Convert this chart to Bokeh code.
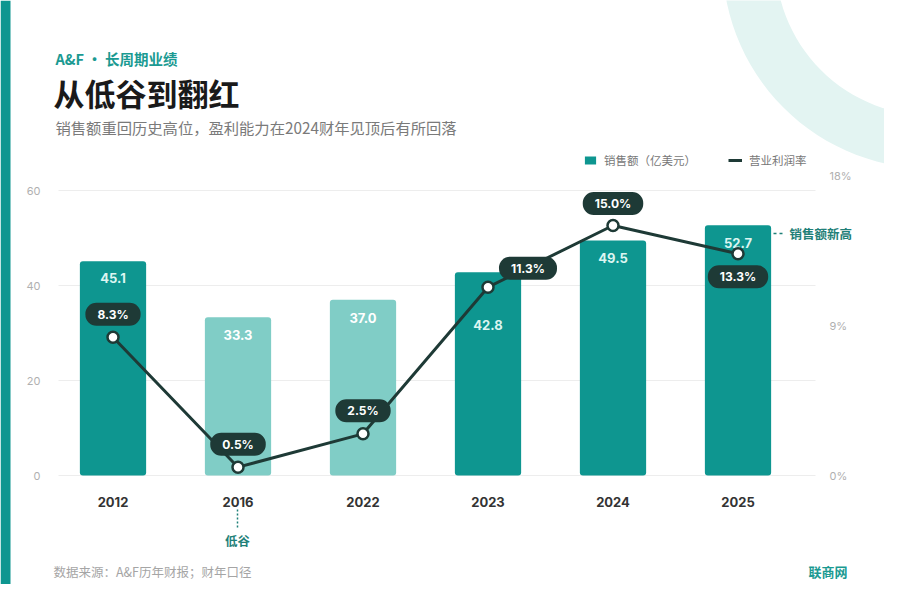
import math

from bokeh.plotting import figure
from bokeh.models import (ColumnDataSource, Range1d, LinearAxis, FixedTicker,
                          PrintfTickFormatter, Label, Legend, LegendItem, Arrow,
                          PolyAnnotation)
from bokeh.core.properties import value
from bokeh.embed import file_html
from bokeh.resources import INLINE

# 数据
years = ["2012", "2016", "2022", "2023", "2024", "2025"]
sales = [45.1, 33.3, 37.0, 42.8, 49.5, 52.7]      # 销售额（亿美元）
margin = [8.3, 0.5, 2.5, 11.3, 15.0, 13.3]        # 营业利润率 %
trough_years = ["2016", "2022"]
sales_ticks = [0, 20, 40, 60]
margin_ticks = [0, 9, 18]

TEAL = "#0e9690"
LIGHT = "#80cdc6"
DARK = "#1e3a36"
ACCENT = "#1f8078"
CJK = "Noto Sans CJK SC"
NUM = "Inter"

# 版面: 整个画布就是绘图区, 参考图像素 -> 数据坐标
W, H = 884, 584
PX_X = 125.0          # 每个类目的像素宽
PX_Y = 4.75           # 左轴每单位像素
PX_R = 300 / 18.0     # 右轴每单位像素


def dx(px):
    return (px - 112.5) / PX_X


def dy(py):
    return (475 - py) / PX_Y


p = figure(frame_width=W, frame_height=H, min_border=0, title=None,
           x_range=Range1d(dx(0), dx(W)), y_range=Range1d(dy(H), dy(0)),
           toolbar_location=None, output_backend="svg")
p.extra_y_ranges = {"right": Range1d((475 - H) / PX_R, 475 / PX_R)}
p.outline_line_color = None
p.background_fill_color = "white"
p.border_fill_color = "white"
p.xgrid.visible = False
p.ygrid.visible = False

# 装饰
theta = [math.radians(a) for a in range(60, 205, 3)]
ring_x = [930 + 208 * math.cos(t) for t in theta] + [930 + 155 * math.cos(t) for t in reversed(theta)]
ring_y = [-40 + 208 * math.sin(t) for t in theta] + [-40 + 155 * math.sin(t) for t in reversed(theta)]
p.add_layout(PolyAnnotation(xs=[dx(v) for v in ring_x], ys=[dy(v) for v in ring_y],
                            fill_color="#e3f4f2", fill_alpha=1, line_color=None, level="underlay"))
p.add_layout(PolyAnnotation(xs=[dx(0), dx(10), dx(10), dx(0)], ys=[dy(0), dy(0), dy(H), dy(H)],
                            fill_color=TEAL, fill_alpha=1, line_color=None))

# 网格线
p.segment(x0=dx(58), x1=dx(815), y0=sales_ticks, y1=sales_ticks,
          line_color="#ededed", line_width=1, level="underlay")

# 柱
idx = list(range(len(years)))
src = ColumnDataSource(dict(
    x=idx, sales=sales, margin=margin,
    color=[LIGHT if y in trough_years else TEAL for y in years],
    label_color=["#ffffff" if y in trough_years else "#dcf5f1" for y in years],
    sales_txt=[f"{v:.1f}" for v in sales],
    margin_txt=[f"{v:.1f}%" for v in margin],
    sales_dy=[17, 18, 18, 53, 18, 18],
    pill_dx=[0, 0, 0, 40, 0, 0],
    pill_dy=[-23, -23, -23, -19, -22, 23],
))

bars = p.vbar(x="x", top="sales", width=0.53, source=src, fill_color="color",
              line_color=None, border_radius=3)
p.text(x="x", y="sales", text="sales_txt", source=src, y_offset="sales_dy",
       text_align="center", text_baseline="middle", text_font=value(NUM),
       text_font_size="13px", text_font_style="bold", text_color="label_color")

line = p.line(x="x", y="margin", source=src, y_range_name="right",
              line_color=DARK, line_width=3)
p.scatter(x="x", y="margin", source=src, y_range_name="right", size=11,
          fill_color="white", line_color=DARK, line_width=2.5)
p.text(x="x", y="margin", text="margin_txt", source=src, y_range_name="right",
       x_offset="pill_dx", y_offset="pill_dy",
       text_align="center", text_baseline="middle", text_font=value(NUM),
       text_font_size="12px", text_font_style="bold", text_color="white",
       background_fill_color=DARK, border_radius=11,
       padding=dict(left=12, right=12, top=4, bottom=4))

# 坐标轴 (固定在绘图区内)
p.yaxis.ticker = FixedTicker(ticks=sales_ticks)
p.yaxis.fixed_location = dx(58)
p.xaxis.ticker = FixedTicker(ticks=idx)
p.xaxis.major_label_overrides = {i: y for i, y in enumerate(years)}
p.xaxis.fixed_location = 0

right_axis = LinearAxis(y_range_name="right", ticker=FixedTicker(ticks=margin_ticks),
                        formatter=PrintfTickFormatter(format="%d%%"),
                        fixed_location=dx(815))
p.add_layout(right_axis, "right")

for ax in (p.yaxis[0], right_axis):
    ax.axis_line_color = None
    ax.major_tick_line_color = None
    ax.minor_tick_line_color = None
    ax.major_label_text_font = NUM
    ax.major_label_text_font_size = "11px"
    ax.major_label_text_color = "#b0b0b0"
p.yaxis[0].major_label_standoff = 12
right_axis.major_label_standoff = 8

p.xaxis.axis_line_color = None
p.xaxis.major_tick_line_color = None
p.xaxis.minor_tick_line_color = None
p.xaxis.major_label_standoff = 15
p.xaxis.major_label_text_font = NUM
p.xaxis.major_label_text_font_size = "13px"
p.xaxis.major_label_text_font_style = "bold"
p.xaxis.major_label_text_color = "#333333"

# 图例
legend = Legend(items=[LegendItem(label="销售额（亿美元）", renderers=[bars]),
                       LegendItem(label="营业利润率", renderers=[line])],
                orientation="horizontal", location=(583, H - 168),
                background_fill_alpha=0, border_line_color=None,
                padding=0, margin=0, spacing=32, glyph_width=14, glyph_height=10,
                label_height=14, label_standoff=7,
                label_text_font=CJK, label_text_font_size="11.5px",
                label_text_color="#777777")
p.add_layout(legend)

# 标题与注释
texts = [
    ("A&F · 长周期业绩", 55, 58, "14.5px", "bold", "#1b9a92", "left"),
    ("从低谷到翻红", 53, 92, "31px", "bold", "#1a1a1a", "left"),
    ("销售额重回历史高位，盈利能力在2024财年见顶后有所回落", 55, 126, "15.3px", "normal", "#7a7a7a", "left"),
    ("数据来源：A&F历年财报；财年口径", 53, 571, "12.5px", "normal", "#a5a5a5", "left"),
    ("联商网", 847, 571, "13px", "bold", "#1b9a92", "right"),
    ("销售额新高", 789, 233, "12.5px", "bold", ACCENT, "left"),
    ("低谷", 237, 540, "12.5px", "bold", ACCENT, "center"),
]
for t, x, y, size, style, color, align in texts:
    p.add_layout(Label(x=dx(x), y=dy(y), text=t, text_font=CJK, text_font_size=size,
                       text_font_style=style, text_color=color, text_align=align,
                       text_baseline="middle"))

p.add_layout(Arrow(end=None, x_start=dx(237), y_start=dy(509), x_end=dx(237), y_end=dy(528),
                   line_color=ACCENT, line_width=1.5, line_dash="2 2"))
p.add_layout(Arrow(end=None, x_start=dx(773), y_start=dy(233), x_end=dx(785), y_end=dy(233),
                   line_color=ACCENT, line_width=1.5, line_dash="3 3"))

open("out.html", "w").write(file_html(p, INLINE))
